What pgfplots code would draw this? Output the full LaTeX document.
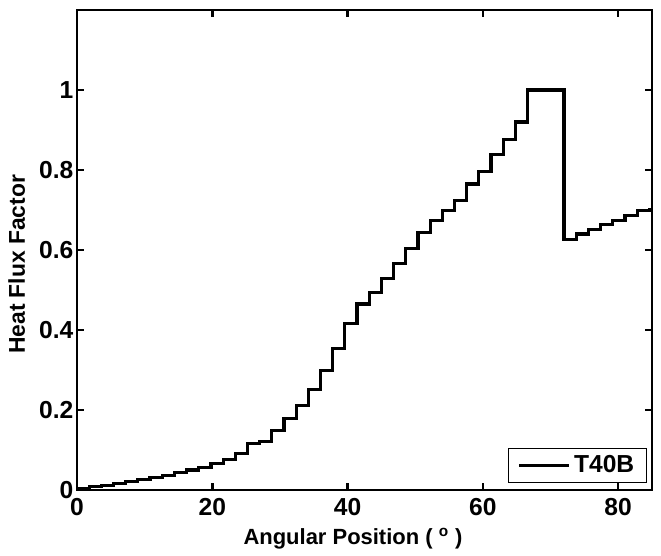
\documentclass[border=0pt]{standalone}
\usepackage{fontspec}
\setmainfont{Liberation Sans}
\usepackage{pgfplots}
\pgfplotsset{compat=1.18}
\begin{document}
\begin{tikzpicture}
\path[use as bounding box] (-1.54cm,-1.32cm) rectangle (11.68cm,9.8cm);
\begin{axis}[
    at={(0,0)}, anchor=south west,
    scale only axis,
    width=11.5cm, height=9.6cm,
    xmin=0, xmax=85,
    ymin=0, ymax=1.2,
    xtick={0,20,40,60,80},
    ytick={0,0.2,0.4,0.6,0.8,1},
    tick align=inside,
    major tick length=0.14cm,
    axis line style={line width=1.6pt},
    every tick/.style={black, line width=1.4pt},
    font=\fontsize{14}{16}\selectfont\bfseries,
    /pgf/number format/assume math mode=true,
    /pgf/number format/fixed,
    xtick pos=both, ytick pos=both,
    xlabel={Angular Position ( \textsuperscript{o} )},
    ylabel={Heat Flux Factor},
    xlabel style={font=\fontsize{12.5}{14}\selectfont\bfseries,
                  at={(ticklabel cs:0.48)}, yshift=-0.02cm},
    ylabel style={font=\fontsize{13}{15}\selectfont\bfseries,
                  at={(ticklabel cs:0.47)}, yshift=0.04cm},
    xticklabel style={yshift=-0.04cm},
    yticklabel style={xshift=0.05cm},
    legend style={
        at={(rel axis cs:1,0)}, anchor=south east,
        xshift=-0.1cm, yshift=0.14cm,
        draw=black, line width=0.5pt,
        font=\fontsize{14}{16}\selectfont\bfseries,
        inner xsep=5pt, inner ysep=2pt
    },
    legend cell align=left,
    legend image post style={line width=1.8pt},
    legend image code/.code={\draw[#1] (0cm,0cm) -- (1.0cm,0cm);},
]
\addplot[const plot, black, line width=1.8pt, mark=none] coordinates {
    (0,0.003) (1.8,0.008) (3.6,0.012) (5.4,0.017) (7.2,0.021)
    (9.0,0.026) (10.8,0.032) (12.6,0.037) (14.4,0.043) (16.2,0.050)
    (18.0,0.057) (19.8,0.066) (21.6,0.077) (23.4,0.092) (25.2,0.117)
    (27.0,0.122) (28.8,0.148) (30.6,0.178) (32.4,0.212) (34.2,0.252)
    (36.0,0.299) (37.8,0.354) (39.6,0.416) (41.4,0.465) (43.2,0.493)
    (45.0,0.529) (46.8,0.567) (48.6,0.604) (50.4,0.643) (52.2,0.674)
    (54.0,0.698) (55.8,0.724) (57.6,0.765) (59.4,0.796) (61.2,0.838)
    (63.0,0.876) (64.8,0.920) (66.6,1.000) (68.4,1.000) (70.2,1.000)
    (72.0,0.627) (73.8,0.640) (75.6,0.652) (77.4,0.663) (79.2,0.674)
    (81.0,0.686) (82.8,0.698) (84.6,0.702) (85.0,0.702)
};
\legend{T40B}
\end{axis}
\end{tikzpicture}
\end{document}
